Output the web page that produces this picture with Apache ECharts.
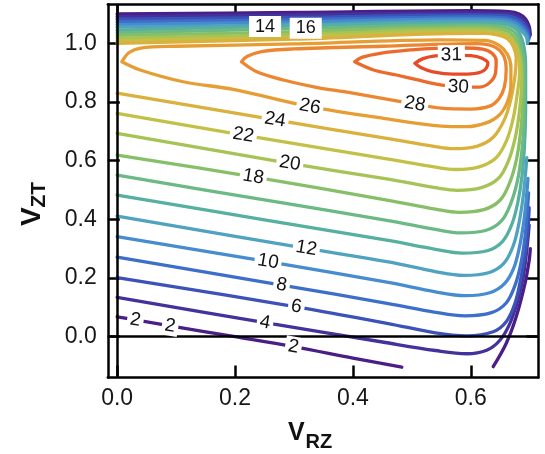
<!DOCTYPE html>
<html>
<head>
<meta charset="utf-8">
<script src="https://cdn.jsdelivr.net/npm/echarts@6/dist/echarts.min.js"></script>
<style>
  html, body { margin: 0; padding: 0; background: #ffffff; }
  #chart { width: 545px; height: 454px; }
</style>
</head>
<body>
<div id="chart"></div>
<script>
// Contour levels and their colours (purple -> red rainbow)
const levels = [2, 4, 6, 8, 10, 12, 14, 16, 18, 20, 22, 24, 26, 28, 30, 31];
const levelColors = ['#4b1d86', '#44329c', '#3c52b8', '#3d6fca', '#468ccf', '#4fa2c0',
  '#56b0a2', '#6bb985', '#87bf68', '#a6c355', '#c3c048', '#d9b13c',
  '#e69d33', '#ec8630', '#ec6a2b', '#e64a27'];

// Tick values
const xTicks = [0.0, 0.2, 0.4, 0.6];
const yTicks = [0.0, 0.2, 0.4, 0.6, 0.8, 1.0];

// Contour paths [V_RZ, V_ZT]; each level may consist of several pieces
const contour2 = [
  [[0, 0.068], [0.031, 0.057], [0.09, 0.037], [0.2, 0.0], [0.299, -0.034], [0.4, -0.073], [0.483, -0.104]],
  [[0.638, -0.102], [0.66, -0.023], [0.677, 0.068], [0.692, 0.182], [0.699, 0.26], [0.701, 0.30]],
  [[0.701, 1.03], [0.699, 1.058], [0.693, 1.083], [0.682, 1.100], [0.665, 1.108], [0.60, 1.111], [0.30, 1.105], [0, 1.100]]
];
const contour4 = [
  [[0, 0.134], [0.251, 0.048], [0.45, -0.018], [0.54, -0.047], [0.593, -0.058], [0.627, -0.046], [0.649, -0.013], [0.666, 0.044], [0.68, 0.125], [0.689, 0.204], [0.695, 0.295], [0.699, 0.38]],
  [[0.700, 1.024], [0.698, 1.051], [0.691, 1.076], [0.680, 1.092], [0.663, 1.101], [0.60, 1.104], [0.30, 1.097], [0, 1.091]]
];
const contour6 = [
  [[0, 0.201], [0.304, 0.102], [0.46, 0.045], [0.54, 0.013], [0.593, 0.003], [0.638, 0.017], [0.66, 0.051], [0.675, 0.114], [0.684, 0.19], [0.692, 0.28], [0.697, 0.37], [0.699, 0.44]],
  [[0.699, 1.018], [0.697, 1.044], [0.689, 1.069], [0.678, 1.085], [0.661, 1.094], [0.60, 1.097], [0.30, 1.088], [0, 1.082]]
];
const contour8 = [
  [[0, 0.271], [0.279, 0.176], [0.46, 0.113], [0.54, 0.083], [0.59, 0.071], [0.635, 0.082], [0.66, 0.115], [0.675, 0.175], [0.685, 0.25], [0.692, 0.34], [0.696, 0.43], [0.698, 0.49]],
  [[0.698, 1.012], [0.696, 1.037], [0.687, 1.062], [0.676, 1.078], [0.659, 1.087], [0.60, 1.090], [0.30, 1.080], [0, 1.073]]
];
const contour10 = [
  [[0, 0.341], [0.256, 0.256], [0.46, 0.185], [0.54, 0.153], [0.59, 0.140], [0.632, 0.150], [0.658, 0.183], [0.674, 0.24], [0.684, 0.32], [0.691, 0.41], [0.695, 0.49], [0.697, 0.54]],
  [[0.697, 1.006], [0.695, 1.030], [0.685, 1.055], [0.674, 1.071], [0.657, 1.080], [0.60, 1.083], [0.30, 1.072], [0, 1.064]]
];
const contour12 = [
  [[0, 0.411], [0.321, 0.301], [0.46, 0.255], [0.54, 0.222], [0.588, 0.209], [0.63, 0.218], [0.656, 0.25], [0.672, 0.31], [0.682, 0.39], [0.689, 0.48], [0.693, 0.56], [0.695, 0.61]],
  [[0.696, 1.0], [0.694, 1.023], [0.683, 1.048], [0.672, 1.064], [0.655, 1.073], [0.60, 1.076], [0.30, 1.063], [0, 1.055]]
];
const contour14 = [
  [[0, 0.483], [0.25, 0.398], [0.46, 0.328], [0.54, 0.298], [0.585, 0.285], [0.628, 0.293], [0.654, 0.325], [0.67, 0.385], [0.68, 0.46], [0.687, 0.55], [0.691, 0.65], [0.693, 0.78], [0.693, 0.92], [0.690, 0.99], [0.681, 1.040], [0.670, 1.057], [0.653, 1.066], [0.60, 1.069], [0.251, 1.057], [0, 1.045]]
];
const contour16 = [
  [[0, 0.551], [0.25, 0.466], [0.46, 0.396], [0.54, 0.366], [0.583, 0.354], [0.625, 0.362], [0.652, 0.395], [0.668, 0.455], [0.679, 0.53], [0.686, 0.62], [0.69, 0.72], [0.691, 0.84], [0.690, 0.94], [0.686, 0.99], [0.677, 1.032], [0.666, 1.049], [0.650, 1.058], [0.60, 1.062], [0.32, 1.051], [0, 1.036]]
];
const contour18 = [
  [[0, 0.619], [0.231, 0.545], [0.46, 0.465], [0.54, 0.435], [0.58, 0.424], [0.622, 0.433], [0.65, 0.466], [0.666, 0.525], [0.677, 0.60], [0.684, 0.69], [0.688, 0.80], [0.688, 0.90], [0.684, 0.97], [0.674, 1.022], [0.662, 1.041], [0.646, 1.051], [0.60, 1.055], [0.30, 1.039], [0, 1.027]]
];
const contour20 = [
  [[0, 0.693], [0.293, 0.591], [0.46, 0.537], [0.54, 0.508], [0.577, 0.499], [0.618, 0.508], [0.647, 0.54], [0.664, 0.60], [0.675, 0.675], [0.682, 0.76], [0.686, 0.86], [0.685, 0.93], [0.680, 0.98], [0.670, 1.015], [0.657, 1.034], [0.640, 1.044], [0.60, 1.048], [0.30, 1.030], [0, 1.018]]
];
const contour22 = [
  [[0, 0.761], [0.214, 0.687], [0.46, 0.605], [0.54, 0.578], [0.574, 0.570], [0.614, 0.579], [0.643, 0.61], [0.661, 0.67], [0.672, 0.745], [0.679, 0.83], [0.683, 0.91], [0.680, 0.965], [0.672, 1.003], [0.66, 1.025], [0.642, 1.036], [0.60, 1.041], [0.30, 1.022], [0, 1.009]]
];
const contour24 = [
  [[0, 0.83], [0.268, 0.739], [0.46, 0.675], [0.54, 0.648], [0.57, 0.641], [0.61, 0.649], [0.638, 0.68], [0.657, 0.74], [0.668, 0.81], [0.675, 0.89], [0.677, 0.95], [0.672, 0.99], [0.662, 1.016], [0.645, 1.029], [0.62, 1.034], [0.60, 1.034], [0.30, 1.014], [0, 1.000]]
];
const contour26 = [
  [[0.008, 0.937], [0.039, 0.909], [0.112, 0.869], [0.197, 0.843], [0.327, 0.784], [0.45, 0.745], [0.55, 0.718], [0.592, 0.716], [0.625, 0.728], [0.648, 0.755], [0.662, 0.80], [0.668, 0.86], [0.668, 0.92], [0.662, 0.963], [0.648, 0.993], [0.625, 1.010], [0.55, 1.012], [0.30, 0.998], [0.10, 0.990], [0.04, 0.984], [0.02, 0.968], [0.008, 0.937]]
];
const contour28 = [
  [[0.211, 0.937], [0.237, 0.903], [0.282, 0.875], [0.338, 0.85], [0.395, 0.832], [0.505, 0.793], [0.55, 0.779], [0.60, 0.776], [0.632, 0.786], [0.648, 0.812], [0.657, 0.852], [0.66, 0.91], [0.655, 0.96], [0.638, 0.99], [0.61, 0.999], [0.45, 0.99], [0.30, 0.981], [0.245, 0.972], [0.22, 0.955], [0.211, 0.937]]
];
const contour30 = [
  [[0.403, 0.937], [0.435, 0.909], [0.474, 0.892], [0.508, 0.876], [0.547, 0.859], [0.579, 0.851], [0.615, 0.851], [0.632, 0.866], [0.642, 0.9], [0.643, 0.94], [0.636, 0.966], [0.62, 0.98], [0.59, 0.984], [0.54, 0.983], [0.50, 0.978], [0.446, 0.966], [0.415, 0.952], [0.403, 0.937]]
];
const contour31 = [
  [[0.505, 0.932], [0.519, 0.948], [0.54, 0.957], [0.567, 0.96], [0.60, 0.958], [0.618, 0.95], [0.629, 0.932], [0.622, 0.907], [0.60, 0.896], [0.57, 0.895], [0.536, 0.903], [0.515, 0.918], [0.505, 0.932]]
];
const contourPaths = [contour2, contour4, contour6, contour8, contour10, contour12, contour14,
  contour16, contour18, contour20, contour22, contour24, contour26, contour28, contour30, contour31];

// Inline level labels: [level, V_RZ, V_ZT] (each sits on a vertex of its contour)
const levelLabels = [
  [2, 0.031, 0.057], [2, 0.09, 0.037], [2, 0.299, -0.034], [4, 0.251, 0.048], [6, 0.304, 0.102],
  [8, 0.279, 0.176], [10, 0.256, 0.256], [12, 0.321, 0.301], [14, 0.251, 1.057], [16, 0.32, 1.051],
  [18, 0.231, 0.545], [20, 0.293, 0.591], [22, 0.214, 0.687], [24, 0.268, 0.739], [26, 0.327, 0.784],
  [28, 0.505, 0.793], [30, 0.579, 0.851], [31, 0.567, 0.96]
];
// Levels whose labels sit inside the dense top band get a boxed, upright label
const boxedLevels = [14, 16];

const X_MIN = -0.0158, X_MAX = 0.7145, Y_MIN = -0.139, Y_MAX = 1.133;
const FONT = '"Liberation Sans", Arial, Helvetica, sans-serif';

const chart = echarts.init(document.getElementById('chart'), null, { renderer: 'canvas' });

const frameLine = { show: true, onZero: false, lineStyle: { color: '#000', width: 2.5 } };
const tickStyle = { color: '#000', width: 2.5 };

function axisX(position, showLabel) {
  return {
    type: 'value', position: position, min: X_MIN, max: X_MAX,
    axisLine: frameLine,
    axisTick: { show: true, inside: true, length: 12, customValues: xTicks, lineStyle: tickStyle },
    axisLabel: {
      show: showLabel, customValues: xTicks, formatter: v => v.toFixed(1),
      fontSize: 23, color: '#161616', fontFamily: FONT, margin: 10
    },
    splitLine: { show: false }
  };
}
function axisY(position, showLabel) {
  return {
    type: 'value', position: position, min: Y_MIN, max: Y_MAX,
    axisLine: frameLine,
    axisTick: { show: true, inside: true, length: 12, customValues: yTicks, lineStyle: tickStyle },
    axisLabel: {
      show: showLabel, customValues: yTicks, formatter: v => v.toFixed(1),
      fontSize: 23, color: '#161616', fontFamily: FONT, margin: 11
    },
    splitLine: { show: false }
  };
}

const series = [];
// zero reference lines
series.push({
  type: 'line', data: [], z: 1, silent: true,
  markLine: {
    silent: true, symbol: 'none', label: { show: false },
    lineStyle: { color: '#000', width: 2.5, type: 'solid' },
    data: [{ xAxis: 0 }, { yAxis: 0 }],
    animation: false
  }
});
levels.forEach((lv, i) => {
  contourPaths[i].forEach(piece => {
    series.push({
      type: 'line', data: piece, smooth: 0.35, symbol: 'none', z: 2,
      lineStyle: { color: levelColors[i], width: 3.3, cap: 'round', join: 'round' },
      silent: true
    });
  });
});

chart.setOption({
  animation: false,
  grid: { left: 107.8, right: 6.7, top: 4.3, bottom: 76.5, containLabel: false },
  xAxis: [axisX('bottom', true), axisX('top', false)],
  yAxis: [axisY('left', true), axisY('right', false)],
  graphic: [
    { type: 'text', left: 288, top: 421, style: { text: 'V', font: 'bold 25px ' + FONT, fill: '#111' } },
    { type: 'text', left: 305.5, top: 432, style: { text: 'RZ', font: 'bold 20px ' + FONT, fill: '#111' } },
    {
      type: 'group', x: 32, y: 226, rotation: Math.PI / 2,
      children: [
        { type: 'text', x: 0, y: 0, style: { text: 'V', font: 'bold 28px ' + FONT, fill: '#111', align: 'left', verticalAlign: 'middle' } },
        { type: 'text', x: 18.5, y: 7.5, style: { text: 'ZT', font: 'bold 21px ' + FONT, fill: '#111', align: 'left', verticalAlign: 'middle' } }
      ]
    }
  ],
  series: series
});

// Label rotation follows the local direction of the contour at the label vertex
function labelAngle(lv, x, y) {
  const idx = levels.indexOf(lv);
  let best = null, bestD = Infinity;
  contourPaths[idx].forEach(piece => {
    piece.forEach((p, k) => {
      const d = Math.abs(p[0] - x) + Math.abs(p[1] - y);
      if (d < bestD) { bestD = d; best = { piece, k }; }
    });
  });
  const pc = best.piece, k = best.k;
  const a = pc[Math.max(0, k - 1)], b = pc[Math.min(pc.length - 1, k + 1)];
  const pa = chart.convertToPixel({ xAxisIndex: 0, yAxisIndex: 0 }, a);
  const pb = chart.convertToPixel({ xAxisIndex: 0, yAxisIndex: 0 }, b);
  let ang = -Math.atan2(pb[1] - pa[1], pb[0] - pa[0]);
  if (ang > Math.PI / 2) ang -= Math.PI;
  if (ang < -Math.PI / 2) ang += Math.PI;
  return ang;
}

// Label table: [V_RZ, V_ZT, level, rotation(rad), boxed]
const labelRows = levelLabels.map(l => {
  const boxed = boxedLevels.indexOf(l[0]) >= 0 ? 1 : 0;
  return [l[1], l[2], l[0], boxed ? 0 : labelAngle(l[0], l[1], l[2]), boxed];
});

const labelSeries = {
  type: 'custom', z: 10, silent: true,
  data: labelRows,
  renderItem: function (params, api) {
    const p = api.coord([api.value(0), api.value(1)]);
    const boxed = api.value(4) === 1;
    return {
      type: 'text', x: p[0], y: p[1], rotation: api.value(3),
      style: {
        text: String(api.value(2)),
        font: (boxed ? 18 : 19) + 'px ' + FONT,
        fill: '#111', align: 'center', verticalAlign: 'middle',
        backgroundColor: '#ffffff',
        padding: boxed ? [2, 6, 1, 6] : [1, 3, 0, 3]
      }
    };
  }
};

chart.setOption({ series: series.concat([labelSeries]) });
</script>
</body>
</html>
